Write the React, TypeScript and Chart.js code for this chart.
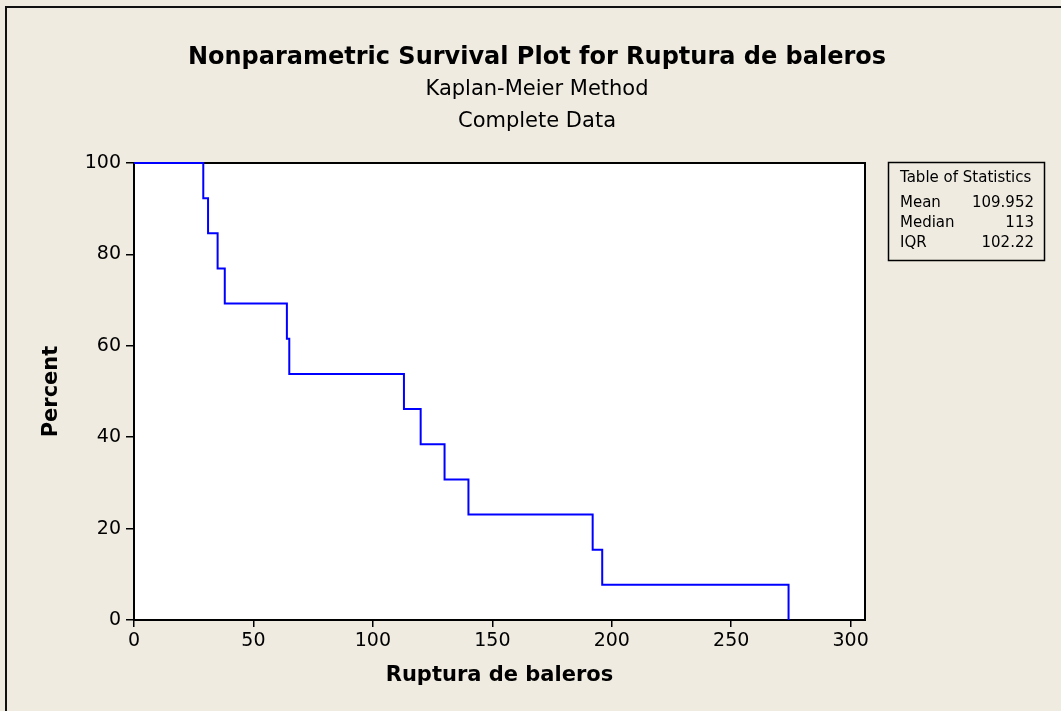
import React, { useEffect, useRef } from "react";
import { Chart, registerables } from "chart.js";

Chart.register(...registerables);

// ---- data ----
const failureTimes = [0, 29, 31, 35, 38, 64, 65, 113, 120, 130, 140, 192, 196, 274];
const survivalPercent = [100, 92.31, 84.62, 76.92, 69.23, 61.54, 53.85, 46.15, 38.46, 30.77, 23.08, 15.38, 7.69, 0];
const xTicks = [0, 50, 100, 150, 200, 250, 300];
const yTicks = [0, 20, 40, 60, 80, 100];
const titleText = "Nonparametric Survival Plot for Ruptura de baleros";
const subtitleLines = ["Kaplan-Meier Method", "Complete Data"];
const xTitle = "Ruptura de baleros";
const yTitle = "Percent";
const statsHeader = "Table of Statistics";
const statLabels = ["Mean", "Median", "IQR"];
const statValues = ["109.952", "113", "102.22"];

const FONT = "'DejaVu Sans', 'Liberation Sans', sans-serif";
const BG = "#EFEBE1";

const decor = {
  id: "decor",
  beforeDraw(chart: any) {
    const { ctx, chartArea: a } = chart;
    ctx.save();
    ctx.fillStyle = BG;
    ctx.fillRect(0, 0, chart.width, chart.height);
    ctx.fillStyle = "#FFFFFF";
    ctx.fillRect(a.left, a.top, a.right - a.left, a.bottom - a.top);
    ctx.restore();
  },
  beforeDatasetsDraw(chart: any) {
    const { ctx, chartArea: a } = chart;
    ctx.save();
    ctx.strokeStyle = "#000";
    ctx.lineWidth = 2;
    ctx.strokeRect(a.left, a.top, a.right - a.left, a.bottom - a.top);
    ctx.restore();
  },
  afterDraw(chart: any) {
    const { ctx } = chart;
    ctx.save();
    // outer frame
    ctx.strokeStyle = "#111";
    ctx.lineWidth = 2;
    ctx.strokeRect(6, 7, 1200, 900);
    // headings
    ctx.fillStyle = "#000";
    ctx.textAlign = "center";
    ctx.textBaseline = "middle";
    ctx.font = `bold 24px ${FONT}`;
    ctx.fillText(titleText, 537, 58);
    ctx.font = `21px ${FONT}`;
    subtitleLines.forEach((s, i) => ctx.fillText(s, 537, 90 + i * 32));
    // statistics table
    ctx.lineWidth = 1.5;
    ctx.strokeStyle = "#000";
    ctx.strokeRect(888.5, 162.5, 156, 98);
    ctx.font = `15px ${FONT}`;
    ctx.textAlign = "left";
    ctx.fillText(statsHeader, 900, 178);
    statLabels.forEach((l, i) => {
      ctx.textAlign = "left";
      ctx.fillText(l, 900, 203 + i * 20);
      ctx.textAlign = "right";
      ctx.fillText(statValues[i], 1034, 203 + i * 20);
    });
    ctx.restore();
  },
};

export default function App() {
  const ref = useRef<HTMLCanvasElement>(null);
  useEffect(() => {
    const canvas = ref.current!;
    const chart = new Chart(canvas, {
      type: "line",
      data: {
        datasets: [
          {
            data: failureTimes.map((t, i) => ({ x: t, y: survivalPercent[i] })),
            borderColor: "#0000FF",
            borderWidth: 2,
            pointRadius: 0,
            stepped: "before",
            fill: false,
            clip: false,
          },
        ],
      },
      options: {
        animation: false,
        responsive: false,
        layout: { padding: { left: 0, top: 163, right: 196, bottom: 0 } },
        plugins: { legend: { display: false }, tooltip: { enabled: false }, title: { display: false } },
        scales: {
          x: {
            type: "linear",
            min: 0,
            max: 306,
            afterFit: (s: any) => { s.height = 91; },
            afterBuildTicks: (s: any) => { s.ticks = xTicks.map((v) => ({ value: v })); },
            grid: { drawOnChartArea: false, color: "#000", lineWidth: 1.5, tickLength: 7 },
            border: { display: true, color: "#000", width: 2 },
            ticks: { color: "#000", font: { family: FONT, size: 19 }, padding: 3, maxRotation: 0 },
            title: { display: true, text: xTitle, color: "#000", font: { family: FONT, size: 21, weight: "bold" }, padding: { top: 0, bottom: 23 } },
          },
          y: {
            type: "linear",
            min: 0,
            max: 100,
            afterFit: (s: any) => { s.width = 134; },
            afterBuildTicks: (s: any) => { s.ticks = yTicks.map((v) => ({ value: v })); },
            grid: { drawOnChartArea: false, color: "#000", lineWidth: 1.5, tickLength: 8 },
            border: { display: true, color: "#000", width: 2 },
            ticks: { color: "#000", font: { family: FONT, size: 19 }, padding: 5 },
            title: { display: true, text: yTitle, color: "#000", font: { family: FONT, size: 21, weight: "bold" }, padding: { top: 39, bottom: 0 } },
          },
        },
      },
      plugins: [decor],
    });
    return () => chart.destroy();
  }, []);
  return (
    <div style={{ position: "absolute", left: 0, top: 0, width: 1061, height: 711 }}>
      <canvas ref={ref} width={1061} height={711} style={{ display: "block" }} />
    </div>
  );
}
